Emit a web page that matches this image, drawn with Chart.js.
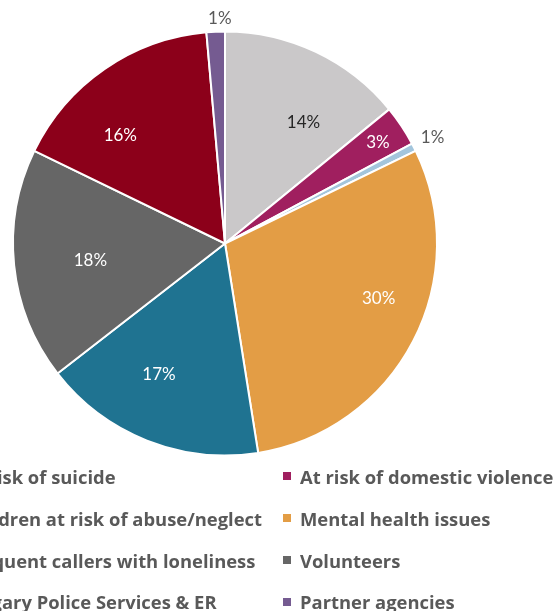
<!DOCTYPE html>
<html>
<head>
<meta charset="utf-8">
<script src="https://cdn.jsdelivr.net/npm/chart.js@4.4.0/dist/chart.umd.min.js"></script>
<style>
  html, body { margin: 0; padding: 0; background: #fff; width: 560px; height: 611px; overflow: hidden; position: relative; }
  #pie { position: absolute; left: 0; top: 0; }
  .col { position: absolute; top: 455.6px; font: bold 18.4px "Open Sans", sans-serif; color: #595959; }
  .item { height: 41.8px; white-space: nowrap; display: flex; align-items: center; }
  .sw { width: 8px; height: 8px; margin-right: 9px; flex: none; }
</style>
</head>
<body>
<canvas id="pie" width="560" height="611"></canvas>
<div class="col" id="col1" style="right:298px"></div>
<div class="col" id="col2" style="left:283px"></div>
<script>
// categories, in slice order (clockwise from 12 o'clock)
const CATEGORIES = [
  'At risk of suicide',
  'At risk of domestic violence',
  'Children at risk of abuse/neglect',
  'Mental health issues',
  'Frequent callers with loneliness',
  'Volunteers',
  'Calgary Police Services & ER',
  'Partner agencies'
];
// share of calls, %
const SHARES = [14.1, 3.1, 0.6, 29.7, 17.0, 17.7, 16.4, 1.4];
const COLORS = ['#CAC8C9', '#A01F5F', '#A3C5DC', '#E39D45', '#1F7391', '#666666', '#8C001A', '#755B91'];
const LABEL_INK = ['#262626', '#ffffff', '#595959', '#ffffff', '#ffffff', '#ffffff', '#ffffff', '#595959'];

// where each % label sits: turn (deg off mid-angle), r (fraction of radius, or px outside when out)
const LABEL_PLACE = [
  {turn: 7.6, r: 0.68},
  {turn: 0.2, r: 0.865},
  {turn: 0, r: 21, out: true},
  {turn: -7.8, r: 0.77},
  {turn: 5.2, r: 0.69},
  {turn: -1.2, r: 0.64},
  {turn: -9.5, r: 0.71},
  {turn: 1.2, r: 13, out: true}
];

const pieLabels = {
  id: 'pieLabels',
  afterDatasetsDraw(chart, args, opts) {
    const ctx = chart.ctx;
    const vals = chart.data.datasets[0].data;
    const total = vals.reduce((s, v) => s + v, 0);
    ctx.save();
    ctx.font = '17px Lato, sans-serif';
    ctx.textAlign = 'center';
    ctx.textBaseline = 'middle';
    chart.getDatasetMeta(0).data.forEach((arc, i) => {
      const {x, y, startAngle, endAngle, outerRadius} =
        arc.getProps(['x', 'y', 'startAngle', 'endAngle', 'outerRadius'], true);
      const p = opts.place[i];
      const a = (startAngle + endAngle) / 2 + p.turn * Math.PI / 180;
      const r = p.out ? outerRadius + p.r : outerRadius * p.r;
      ctx.fillStyle = opts.ink[i];
      ctx.fillText(Math.round(vals[i] / total * 100) + '%', x + Math.cos(a) * r, y + Math.sin(a) * r);
    });
    ctx.restore();
  }
};

const chart = new Chart(document.getElementById('pie'), {
  type: 'pie',
  data: {
    labels: CATEGORIES,
    datasets: [{
      data: SHARES,
      backgroundColor: COLORS,
      borderColor: '#ffffff',
      borderWidth: 2,
      radius: 212
    }]
  },
  options: {
    responsive: false,
    animation: false,
    layout: {padding: {left: 0, right: 110, top: 0, bottom: 124}},
    plugins: {
      legend: {display: false},
      tooltip: {enabled: false},
      pieLabels: {place: LABEL_PLACE, ink: LABEL_INK}
    }
  },
  plugins: [pieLabels]
});

// two-column legend, row-major like the original
const col1 = document.getElementById('col1');
const col2 = document.getElementById('col2');
CATEGORIES.forEach((name, i) => {
  const item = document.createElement('div');
  item.className = 'item';
  item.innerHTML = '<span class="sw" style="background:' + COLORS[i] + '"></span><span></span>';
  item.lastChild.textContent = name;
  (i % 2 === 0 ? col1 : col2).appendChild(item);
});
</script>
</body>
</html>
